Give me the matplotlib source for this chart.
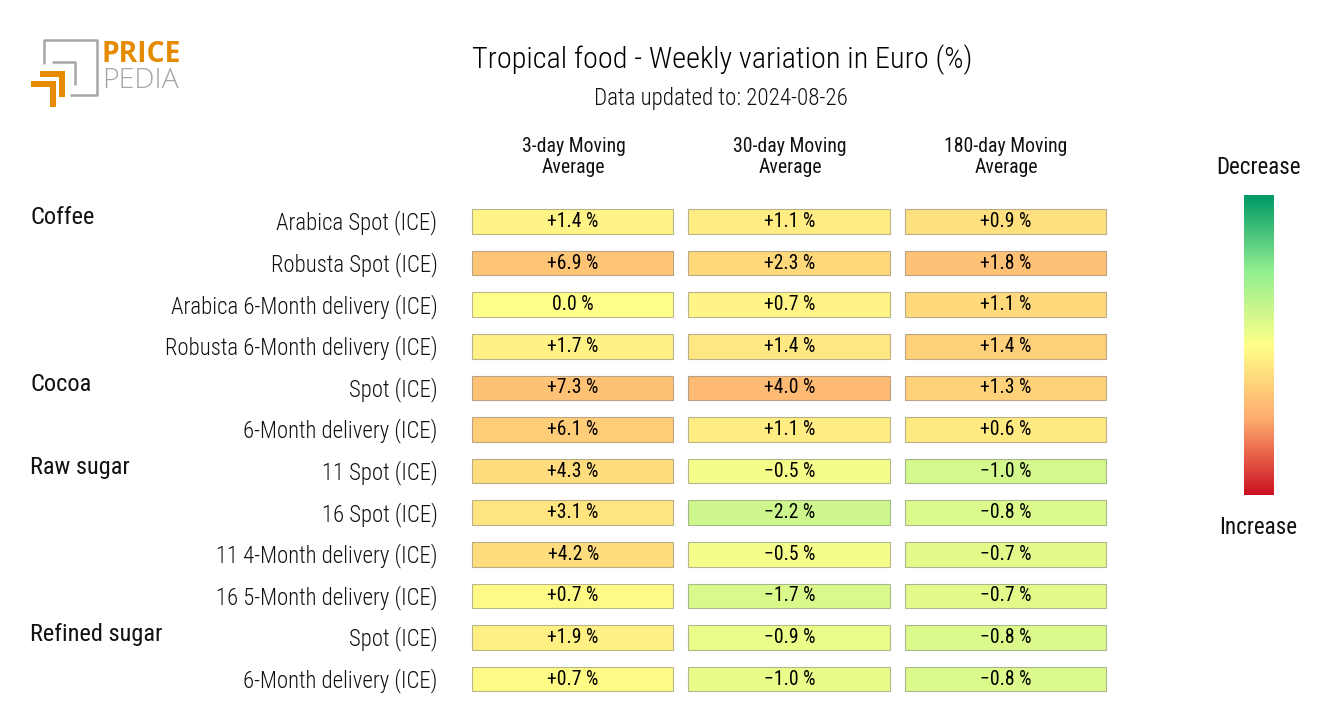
import numpy as np
import matplotlib
matplotlib.use("Agg")
import matplotlib.pyplot as plt
from matplotlib.colors import LinearSegmentedColormap
from matplotlib.patches import Polygon
from matplotlib import font_manager as fm

names = {f.name for f in fm.fontManager.ttflist}
FONT = "Roboto Condensed" if "Roboto Condensed" in names else "Roboto"
plt.rcParams["font.family"] = [FONT, "DejaVu Sans"]

W, H = 1320, 720
title = "Tropical food - Weekly variation in Euro (%)"
subtitle = "Data updated to: 2024-08-26"
columns = ["3-day Moving\nAverage", "30-day Moving\nAverage", "180-day Moving\nAverage"]
groups = {"Coffee": 0, "Cocoa": 4, "Raw sugar": 6, "Refined sugar": 10}
rows = ["Arabica Spot (ICE)", "Robusta Spot (ICE)", "Arabica 6-Month delivery (ICE)",
        "Robusta 6-Month delivery (ICE)", "Spot (ICE)", "6-Month delivery (ICE)",
        "11 Spot (ICE)", "16 Spot (ICE)", "11 4-Month delivery (ICE)",
        "16 5-Month delivery (ICE)", "Spot (ICE)", "6-Month delivery (ICE)"]
ma3 = [1.4, 6.9, 0.0, 1.7, 7.3, 6.1, 4.3, 3.1, 4.2, 0.7, 1.9, 0.7]
ma30 = [1.1, 2.3, 0.7, 1.4, 4.0, 1.1, -0.5, -2.2, -0.5, -1.7, -0.9, -1.0]
ma180 = [0.9, 1.8, 1.1, 1.4, 1.3, 0.6, -1.0, -0.8, -0.7, -0.7, -0.8, -0.8]
series = [ma3, ma30, ma180]
# the reference scales its colours separately for each column
col_scale = [41.0, 20.0, 10.0]

cmap = LinearSegmentedColormap.from_list(
    "pp", ["#cc1122", "#ffaa6e", "#ffff88", "#90ee90", "#009966"])


def px_axes(x0, y0, x1, y1):
    return fig.add_axes([x0 / W, 1 - y1 / H, (x1 - x0) / W, (y1 - y0) / H])


fig = plt.figure(figsize=(W / 100, H / 100), dpi=100, facecolor="white")

# heat table
ax = px_axes(465, 200.7, 1114, 699.9)
ax.set_xlim(-0.5, 2.5)
ax.set_ylim(len(rows) - 0.5, -0.5)
ax.axis("off")
for c, vals in enumerate(series):
    for r, v in enumerate(vals):
        col = cmap(0.5 - v / col_scale[c])
        edge = tuple(0.375 * np.array(col[:3]) + 0.35)
        ax.barh(r, 0.93, left=c - 0.467, height=0.59, color=col, edgecolor=edge, linewidth=0.8)
        s = "0.0 %" if v == 0 else f"{'+' if v > 0 else '\u2212'}{abs(v):.1f} %"
        ax.text(c, r + 0.0, s, ha="center", va="center", fontsize=14.1, color="black")

t = lambda x, y, s, **k: fig.text(x / W, 1 - y / H, s, **k)
t(722, 60, title, ha="center", va="center", fontsize=21.75, fontweight="light", color="#000000")
t(720.5, 98, subtitle, ha="center", va="center", fontsize=16.6, fontweight="light", color="#111111")
for x, s in zip([573.5, 790, 1006], columns):
    t(x, 157, s, ha="center", va="center", fontsize=14.2, color="#111111", linespacing=1.15)
for r, s in enumerate(rows):
    t(437.5, 223 + r * 41.6, s, ha="right", va="center", fontsize=16.4, fontweight="light", color="#111111")
for s, r in groups.items():
    t(30, 218 + r * 41.6, s, ha="left", va="center", fontsize=17.6, color="#111111")
t(1259, 167, "Decrease", ha="center", va="center", fontsize=16.6, color="#111111")
t(1258, 527, "Increase", ha="center", va="center", fontsize=16.7, color="#111111")

# colour bar
cax = px_axes(1243.5, 195, 1273.5, 495)
cax.imshow(np.linspace(1, 0, 256)[:, None], cmap=cmap, aspect="auto", vmin=0, vmax=1)
cax.axis("off")

# logo
lax = fig.add_axes([0, 0, 1, 1], zorder=-1)
lax.set_xlim(0, W)
lax.set_ylim(H, 0)
lax.axis("off")
GR = "#a6a6a6"
OR = "#e68a00"
lax.plot([43.5, 43.5, 96.5, 96.5, 70], [64, 39.5, 39.5, 94.5, 94.5], color=GR, lw=1.8, solid_capstyle="butt")
lax.plot([52, 74.5, 74.5], [62, 62, 85], color=GR, lw=1.8, solid_capstyle="butt")
lax.add_patch(Polygon([(40, 71), (65, 71), (65, 97), (59, 97), (59, 77), (40, 77)], color=OR, lw=0))
lax.add_patch(Polygon([(31, 81), (56, 81), (56, 107), (50, 107), (50, 87), (31, 87)], color=OR, lw=0))
lax.text(102, 55, "PRICE", color=OR, fontsize=20.3, fontweight="bold", family="Open Sans", va="center", ha="left")
lax.text(102, 81, "PEDIA", color=GR, fontsize=20.5, fontweight="light", family="Open Sans", va="center", ha="left")

fig.savefig("out.png", dpi=100)
